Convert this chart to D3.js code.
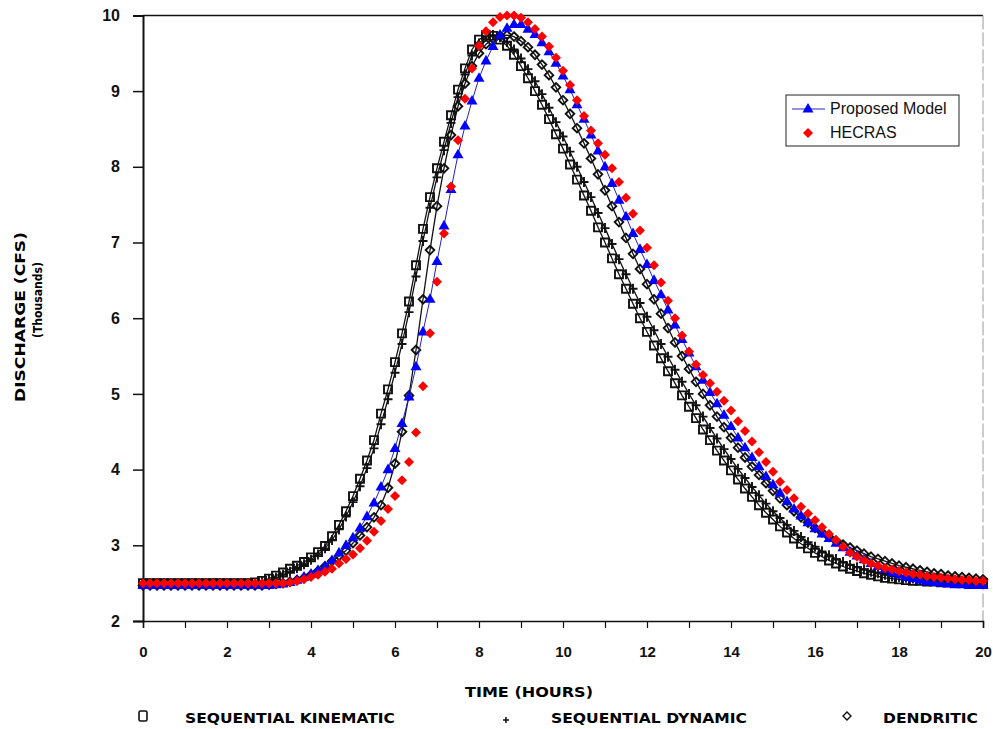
<!DOCTYPE html>
<html>
<head>
<meta charset="utf-8">
<script src="https://cdnjs.cloudflare.com/ajax/libs/d3/7.8.5/d3.min.js"></script>
<style>
    body { margin: 0; background: #fff; }
    svg { display: block; }
</style>
</head>
<body>
<div id="chart"></div>
<script>
// time of each sample, minutes (10 minute steps)
const minutes = [0, 10, 20, 30, 40, 50, 60, 70, 80, 90, 100, 110, 120, 130, 140, 150, 160, 170, 180, 190,
    200, 210, 220, 230, 240, 250, 260, 270, 280, 290, 300, 310, 320, 330, 340, 350, 360, 370, 380, 390,
    400, 410, 420, 430, 440, 450, 460, 470, 480, 490, 500, 510, 520, 530, 540, 550, 560, 570, 580, 590,
    600, 610, 620, 630, 640, 650, 660, 670, 680, 690, 700, 710, 720, 730, 740, 750, 760, 770, 780, 790,
    800, 810, 820, 830, 840, 850, 860, 870, 880, 890, 900, 910, 920, 930, 940, 950, 960, 970, 980, 990,
    1000, 1010, 1020, 1030, 1040, 1050, 1060, 1070, 1080, 1090, 1100, 1110, 1120, 1130, 1140, 1150, 1160, 1170, 1180, 1190,
    1200];

// discharge, thousands of cfs
const seqKinematic = [2.50, 2.50, 2.50, 2.50, 2.50, 2.50, 2.50, 2.50, 2.50, 2.50, 2.50, 2.50, 2.50, 2.50, 2.50, 2.50,
    2.51, 2.53, 2.56, 2.60, 2.64, 2.69, 2.73, 2.78, 2.84, 2.91, 2.99, 3.12, 3.27, 3.45, 3.65, 3.88, 4.12, 4.39, 4.74,
    5.06, 5.42, 5.80, 6.22, 6.70, 7.18, 7.60, 7.98, 8.33, 8.68, 9.02, 9.30, 9.55, 9.68, 9.74, 9.73, 9.68, 9.60, 9.48,
    9.33, 9.17, 9.00, 8.82, 8.63, 8.43, 8.24, 8.03, 7.83, 7.62, 7.42, 7.20, 7.00, 6.79, 6.58, 6.39, 6.19, 6.00, 5.82,
    5.64, 5.47, 5.30, 5.14, 4.98, 4.83, 4.68, 4.53, 4.39, 4.25, 4.12, 3.99, 3.87, 3.75, 3.64, 3.53, 3.43, 3.34, 3.25,
    3.17, 3.09, 3.02, 2.96, 2.90, 2.85, 2.80, 2.76, 2.72, 2.69, 2.66, 2.63, 2.61, 2.59, 2.57, 2.56, 2.55,
    2.54, 2.53, 2.53, 2.52, 2.52, 2.51, 2.51, 2.51, 2.50, 2.50, 2.50, 2.50];

const seqDynamic = [2.50, 2.50, 2.50, 2.50, 2.50, 2.50, 2.50, 2.50, 2.50, 2.50, 2.50, 2.50, 2.50, 2.50, 2.50, 2.50, 2.50,
    2.52, 2.54, 2.57, 2.61, 2.65, 2.70, 2.75, 2.81, 2.88, 2.96, 3.07, 3.21, 3.38, 3.57, 3.78, 4.02, 4.28, 4.60, 4.93,
    5.28, 5.66, 6.08, 6.55, 7.02, 7.46, 7.86, 8.22, 8.58, 8.92, 9.22, 9.47, 9.63, 9.72, 9.74, 9.71, 9.65, 9.55, 9.43,
    9.29, 9.13, 8.96, 8.78, 8.59, 8.40, 8.20, 8.00, 7.80, 7.60, 7.39, 7.19, 6.98, 6.78, 6.58, 6.39, 6.20, 6.02, 5.84,
    5.66, 5.49, 5.32, 5.16, 5.00, 4.85, 4.70, 4.55, 4.41, 4.27, 4.14, 4.01, 3.89, 3.77, 3.66, 3.55, 3.45, 3.36, 3.27,
    3.19, 3.11, 3.04, 2.98, 2.92, 2.87, 2.82, 2.78, 2.74, 2.71, 2.68, 2.65, 2.63, 2.61, 2.59, 2.58,
    2.57, 2.56, 2.55, 2.54, 2.54, 2.53, 2.53, 2.52, 2.52, 2.52, 2.51, 2.51];

const dendritic = [2.47, 2.47, 2.47, 2.47, 2.47, 2.47, 2.47, 2.47, 2.47, 2.47, 2.47, 2.47, 2.47, 2.47, 2.47, 2.47, 2.47, 2.47,
    2.48, 2.49, 2.50, 2.52, 2.54, 2.57, 2.61, 2.66, 2.72, 2.79, 2.86, 2.93, 3.03, 3.13, 3.24, 3.37, 3.53, 3.76, 4.08,
    4.50, 4.98, 5.58, 6.25, 6.90, 7.48, 7.98, 8.42, 8.80, 9.10, 9.33, 9.50, 9.62, 9.69, 9.73, 9.74, 9.72, 9.66, 9.58,
    9.48, 9.35, 9.21, 9.05, 8.88, 8.70, 8.51, 8.31, 8.11, 7.90, 7.69, 7.48, 7.27, 7.06, 6.85, 6.65, 6.45, 6.25, 6.06,
    5.87, 5.68, 5.50, 5.33, 5.16, 5.00, 4.85, 4.70, 4.56, 4.42, 4.29, 4.16, 4.04, 3.93, 3.82, 3.72, 3.62, 3.53, 3.45,
    3.37, 3.30, 3.23, 3.17, 3.11, 3.06, 3.01, 2.97, 2.93, 2.89, 2.85, 2.82, 2.79, 2.76, 2.73, 2.71, 2.69, 2.67, 2.65,
    2.63, 2.62, 2.60, 2.59, 2.58, 2.57, 2.56, 2.55];

const proposedModel = [2.47, 2.47, 2.47, 2.47, 2.47, 2.47, 2.47, 2.47, 2.47, 2.47, 2.47, 2.47, 2.47, 2.47, 2.47, 2.47, 2.47, 2.47, 2.47,
    2.48, 2.49, 2.51, 2.54, 2.58, 2.62, 2.67, 2.72, 2.80, 2.90, 3.00, 3.10, 3.23, 3.38, 3.56, 3.77, 4.00, 4.28, 4.61,
    4.96, 5.36, 5.82, 6.25, 6.75, 7.22, 7.70, 8.16, 8.54, 8.87, 9.17, 9.40, 9.59, 9.74, 9.83, 9.88, 9.88, 9.82, 9.75,
    9.64, 9.52, 9.37, 9.20, 9.02, 8.82, 8.63, 8.42, 8.21, 8.00, 7.78, 7.56, 7.34, 7.12, 6.91, 6.71, 6.50, 6.31, 6.11,
    5.91, 5.72, 5.54, 5.36, 5.18, 5.02, 4.87, 4.72, 4.57, 4.42, 4.29, 4.16, 4.04, 3.91, 3.80, 3.69, 3.58, 3.48, 3.39,
    3.30, 3.22, 3.15, 3.09, 3.03, 2.97, 2.91, 2.86, 2.81, 2.76, 2.72, 2.68, 2.64, 2.61, 2.58, 2.56, 2.54, 2.52, 2.51,
    2.50, 2.49, 2.48, 2.48, 2.47, 2.47, 2.47];

const hecras = [2.50, 2.50, 2.50, 2.50, 2.50, 2.50, 2.50, 2.50, 2.50, 2.50, 2.50, 2.50, 2.50, 2.50, 2.50, 2.50, 2.50, 2.50, 2.50, 2.50, 2.50,
    2.51, 2.53, 2.55, 2.58, 2.61, 2.65, 2.69, 2.76, 2.82, 2.88, 2.96, 3.06, 3.18, 3.32, 3.48, 3.65, 3.86, 4.10, 4.49,
    5.10, 5.80, 6.48, 7.12, 7.74, 8.35, 8.90, 9.30, 9.60, 9.79, 9.91, 9.98, 10.0, 10.0, 9.97, 9.91, 9.82, 9.72, 9.59,
    9.44, 9.27, 9.08, 8.88, 8.67, 8.48, 8.31, 8.16, 7.98, 7.80, 7.59, 7.38, 7.16, 6.93, 6.70, 6.47, 6.23, 6.00, 5.77,
    5.56, 5.39, 5.25, 5.14, 5.03, 4.91, 4.78, 4.64, 4.51, 4.37, 4.23, 4.10, 3.97, 3.84, 3.73, 3.62, 3.51, 3.42, 3.33,
    3.24, 3.15, 3.07, 2.98, 2.90, 2.85, 2.80, 2.76, 2.73, 2.70, 2.68, 2.66, 2.64, 2.62, 2.61, 2.59, 2.58, 2.57, 2.56,
    2.55, 2.54, 2.54, 2.53, 2.53];

// axis ticks
const hourTicks = [0, 1, 2, 3, 4, 5, 6, 7, 8, 9, 10, 11, 12, 13, 14, 15, 16, 17, 18, 19, 20];
const hourLabels = [0, 2, 4, 6, 8, 10, 12, 14, 16, 18, 20];
const dischargeTicks = [2, 3, 4, 5, 6, 7, 8, 9, 10];

drawGraph();

function drawGraph() {

    const fontFamily = '"Liberation Sans", Arial, sans-serif',
        titleFont = '"DejaVu Sans", sans-serif';
    const width = 993,
        height = 729;

    const svg = d3.select('#chart')
        .append('svg')
        .attr('width', width)
        .attr('height', height)
        .style('background-color', '#fff');

    // scales
    const x = d3.scaleLinear().domain([0, 20]).range([143, 983]);
    const y = d3.scaleLinear().domain([2, 10]).range([621, 15.4]);

    const toPoints = values => values.map((v, i) => ({ t: minutes[i] / 60, v: v }));

    // frame
    svg.append('line').attr('x1', x(0)).attr('x2', x(20)).attr('y1', y(10)).attr('y2', y(10))
        .attr('stroke', '#111').attr('stroke-width', 1.5);
    svg.append('line').attr('x1', x(20)).attr('x2', x(20)).attr('y1', y(10)).attr('y2', y(2))
        .attr('stroke', '#999').attr('stroke-width', 1).attr('stroke-dasharray', '14,3');

    // y axis
    const yAxis = svg.append('g')
        .attr('transform', 'translate(' + x(0) + ',0)')
        .call(d3.axisLeft(y).tickValues(dischargeTicks).tickSize(10).tickPadding(13).tickFormat(d3.format('d')));
    yAxis.select('.domain').attr('stroke', '#111').attr('stroke-width', 2);
    yAxis.selectAll('.tick line').attr('stroke', '#111').attr('stroke-width', 1.5);
    yAxis.selectAll('.tick text')
        .style('font-family', fontFamily)
        .style('font-size', '16px')
        .style('font-weight', 'bold')
        .attr('fill', '#111');

    // x axis
    const xAxis = svg.append('g')
        .attr('transform', 'translate(0,' + y(2) + ')')
        .call(d3.axisBottom(x).tickValues(hourTicks).tickSize(7).tickPadding(18)
            .tickFormat(d => hourLabels.includes(d) ? d : ''));
    xAxis.select('.domain').attr('stroke', '#111').attr('stroke-width', 1.5);
    xAxis.selectAll('.tick line').attr('stroke', '#111').attr('stroke-width', 1.2);
    xAxis.selectAll('.tick text')
        .style('font-family', fontFamily)
        .style('font-size', '15px')
        .style('font-weight', 'bold')
        .attr('fill', '#111');

    // axis titles
    svg.append('text')
        .attr('transform', 'translate(25,317) rotate(-90)')
        .attr('text-anchor', 'middle')
        .attr('textLength', 170)
        .attr('lengthAdjust', 'spacingAndGlyphs')
        .style('font-family', titleFont)
        .style('font-size', '14px')
        .style('font-weight', 'bold')
        .text('DISCHARGE (CFS)');
    svg.append('text')
        .attr('transform', 'translate(42,300) rotate(-90)')
        .attr('text-anchor', 'middle')
        .attr('textLength', 76)
        .attr('lengthAdjust', 'spacingAndGlyphs')
        .style('font-family', titleFont)
        .style('font-size', '12px')
        .style('font-weight', 'bold')
        .text('(Thousands)');
    svg.append('text')
        .attr('x', 465)
        .attr('y', 697)
        .attr('textLength', 128)
        .attr('lengthAdjust', 'spacingAndGlyphs')
        .style('font-family', titleFont)
        .style('font-size', '14px')
        .style('font-weight', 'bold')
        .text('TIME (HOURS)');

    // marker shapes
    const squarePath = 'M-4,-4H4V4H-4Z';
    const plusPath = 'M-4.5,0H4.5M0,-5V5';
    const openDiamondPath = 'M0,-4.3L4.3,0L0,4.3L-4.3,0Z';
    const trianglePath = 'M0,-6L5.5,3.6L-5.5,3.6Z';
    const redDiamondPath = 'M0,-5L5,0L0,5L-5,0Z';

    const line = d3.line().x(d => x(d.t)).y(d => y(d.v));

    const blackSeries = [
        { values: seqKinematic, path: squarePath },
        { values: seqDynamic, path: plusPath },
        { values: dendritic, path: openDiamondPath }
    ];

    blackSeries.forEach(s => {
        const pts = toPoints(s.values);
        svg.append('path')
            .attr('d', line(pts))
            .attr('fill', 'none')
            .attr('stroke', '#111')
            .attr('stroke-width', 1.3);
        svg.append('g')
            .selectAll('path')
            .data(pts)
            .enter()
            .append('path')
            .attr('d', s.path)
            .attr('transform', d => 'translate(' + x(d.t) + ',' + y(d.v) + ')')
            .attr('fill', 'none')
            .attr('stroke', '#111')
            .attr('stroke-width', 1.9);
    });

    // proposed model: line with triangles
    const modelPts = toPoints(proposedModel);
    svg.append('path')
        .attr('d', line(modelPts))
        .attr('fill', 'none')
        .attr('stroke', '#2222bb')
        .attr('stroke-width', 1);
    svg.append('g')
        .selectAll('path')
        .data(modelPts)
        .enter()
        .append('path')
        .attr('d', trianglePath)
        .attr('transform', d => 'translate(' + x(d.t) + ',' + y(d.v) + ')')
        .attr('fill', '#0000ff');

    // HECRAS: red diamonds
    svg.append('g')
        .selectAll('path')
        .data(toPoints(hecras))
        .enter()
        .append('path')
        .attr('d', redDiamondPath)
        .attr('transform', d => 'translate(' + x(d.t) + ',' + y(d.v) + ')')
        .attr('fill', '#ff0000');

    // legend box (right)
    const legend = svg.append('g');
    legend.append('rect')
        .attr('x', 786).attr('y', 95).attr('width', 173).attr('height', 51)
        .attr('fill', '#fff').attr('stroke', '#222').attr('stroke-width', 1);
    legend.append('line')
        .attr('x1', 792).attr('x2', 825).attr('y1', 109).attr('y2', 109)
        .attr('stroke', '#6f6fd0').attr('stroke-width', 1.5);
    legend.append('path').attr('d', trianglePath)
        .attr('transform', 'translate(808,109)').attr('fill', '#0000ff');
    legend.append('path').attr('d', redDiamondPath)
        .attr('transform', 'translate(808,133)').attr('fill', '#ff0000');
    legend.append('text').attr('x', 830).attr('y', 114).text('Proposed Model');
    legend.append('text').attr('x', 830).attr('y', 138).text('HECRAS');
    legend.selectAll('text')
        .style('font-family', fontFamily)
        .style('font-size', '16px')
        .attr('fill', '#111');

    // legend (bottom)
    const bottom = svg.append('g')
        .style('font-family', titleFont)
        .style('font-size', '14px')
        .style('font-weight', 'bold');
    bottom.append('rect')
        .attr('x', 139).attr('y', 711).attr('width', 8).attr('height', 10).attr('rx', 1.5)
        .attr('fill', 'none').attr('stroke', '#111').attr('stroke-width', 1.6);
    bottom.append('text').attr('x', 185).attr('y', 723)
        .attr('textLength', 210).attr('lengthAdjust', 'spacingAndGlyphs').text('SEQUENTIAL KINEMATIC');
    bottom.append('path').attr('d', 'M-3,0H3M0,-3V3')
        .attr('transform', 'translate(506,720)').attr('stroke', '#111').attr('stroke-width', 1.5);
    bottom.append('text').attr('x', 551).attr('y', 723)
        .attr('textLength', 196).attr('lengthAdjust', 'spacingAndGlyphs').text('SEQUENTIAL DYNAMIC');
    bottom.append('path').attr('d', 'M0,-4L4,0L0,4L-4,0Z')
        .attr('transform', 'translate(847,716)').attr('fill', 'none').attr('stroke', '#111').attr('stroke-width', 1.4);
    bottom.append('text').attr('x', 883).attr('y', 723)
        .attr('textLength', 95).attr('lengthAdjust', 'spacingAndGlyphs').text('DENDRITIC');
}
</script>
</body>
</html>
